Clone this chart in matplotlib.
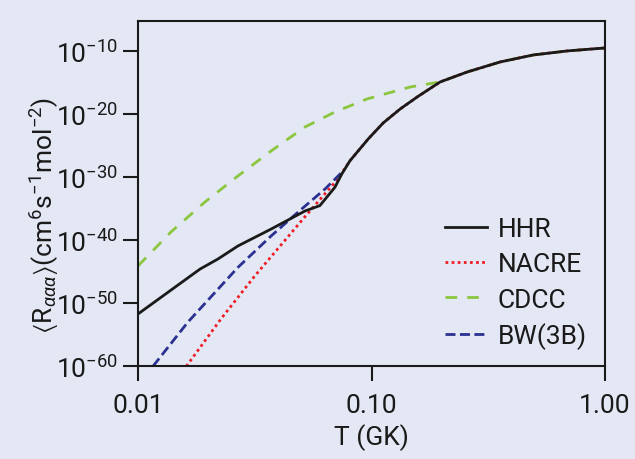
import matplotlib
matplotlib.use("Agg")
import matplotlib.pyplot as plt

# temperature (GK) and log10 of the rate
hhr_T = [0.0100, 0.01845, 0.0220, 0.0268, 0.0372, 0.0519, 0.0601, 0.0697,
         0.0746, 0.0809, 0.0968, 0.1122, 0.1327, 0.1570, 0.1968, 0.2570,
         0.3556, 0.4930, 0.6900, 1.0000]
hhr_exp = [-51.7, -44.56, -42.97, -40.90, -38.21, -35.35, -34.5, -31.59,
           -29.48, -27.37, -23.92, -21.38, -19.16, -17.25, -14.87, -13.29,
           -11.70, -10.59, -9.95, -9.48]

# NACRE joins HHR near 0.075 GK
nacre_T = [0.01611, 0.02265, 0.03162, 0.05176, 0.07178] + hhr_T[9:]
nacre_exp = [-60.0, -52.49, -45.67, -36.30, -30.27] + hhr_exp[9:]

# CDCC joins HHR near 0.2 GK
cdcc_T = [0.0100, 0.01384, 0.01936, 0.02679, 0.03715, 0.05188, 0.06982,
          0.09572, 0.1466] + hhr_T[14:]
cdcc_exp = [-44.08, -38.68, -33.92, -29.79, -25.83, -22.02, -19.63,
            -17.57, -15.67] + hhr_exp[14:]

bw_T = [0.01159, 0.01637, 0.02679, 0.03715, 0.04853, 0.06324, 0.07464]
bw_exp = [-60.0, -52.97, -44.3, -39.32, -35.51, -31.86, -29.21]

x_ticks = [0.01, 0.1, 1.0]
x_labels = ["0.01", "0.10", "1.00"]
y_exps = [-60, -50, -40, -30, -20, -10]

fam = "Roboto"
plt.rcParams["font.family"] = [fam, "DejaVu Sans"]
plt.rcParams["mathtext.fontset"] = "custom"
plt.rcParams["mathtext.rm"] = fam
plt.rcParams["mathtext.it"] = fam + ":italic"
plt.rcParams["mathtext.default"] = "regular"

bg = "#e4e8f5"
ink = "#1a1a1a"
fig = plt.figure(figsize=(6.35, 4.6), dpi=100, facecolor=bg)
ax = fig.add_axes([0.2173, 0.2015, 0.7355, 0.75], facecolor=bg)

lw = 2.0
l_cdcc, = ax.plot(cdcc_T, [10.0 ** e for e in cdcc_exp], color="#8cc63f", lw=lw,
                  ls=(0, (4.2, 3.6)), label="CDCC")
l_nacre, = ax.plot(nacre_T, [10.0 ** e for e in nacre_exp], color="#ee1c25", lw=lw,
                   ls=(0, (1.0, 1.2)), label="NACRE")
l_bw, = ax.plot(bw_T, [10.0 ** e for e in bw_exp], color="#2b3190", lw=lw,
                ls=(0, (3.6, 1.6)), label="BW(3B)")
l_hhr, = ax.plot(hhr_T, [10.0 ** e for e in hhr_exp], color=ink, lw=lw,
                 label="HHR")

ax.set_xscale("log")
ax.set_yscale("log")
ax.set_xlim(0.01, 1.0)
ax.set_ylim(1e-60, 10 ** -5.25)
ax.set_xticks(x_ticks)
ax.set_xticklabels(x_labels)
ax.set_yticks([10.0 ** e for e in y_exps])
ax.set_yticklabels([r"$10^{%d}$" % e for e in y_exps])
ax.minorticks_off()
ax.tick_params(axis="both", which="major", direction="out", length=11,
               width=1.5, labelsize=19, colors=ink)
ax.tick_params(axis="x", pad=8)
ax.tick_params(axis="y", pad=3)
for s in ax.spines.values():
    s.set_linewidth(1.5)
    s.set_color(ink)

ax.set_xlabel("T (GK)", fontsize=19, labelpad=5, color=ink)
ax.set_ylabel(r"$\langle$R$_{\mathit{\alpha\alpha\alpha}}\rangle$(cm$^{6}$s$^{-1}$mol$^{-2}$)",
              fontsize=19, color=ink)
ax.yaxis.set_label_coords(-0.165, 0.44)

leg = ax.legend(handles=[l_hhr, l_nacre, l_cdcc, l_bw], loc="lower right",
                bbox_to_anchor=(1.012, -0.02), frameon=False, fontsize=19,
                handlelength=1.6, handletextpad=0.4, labelspacing=0.42)
for t in leg.get_texts():
    t.set_color(ink)

fig.savefig("out.png", dpi=100, facecolor=bg)
